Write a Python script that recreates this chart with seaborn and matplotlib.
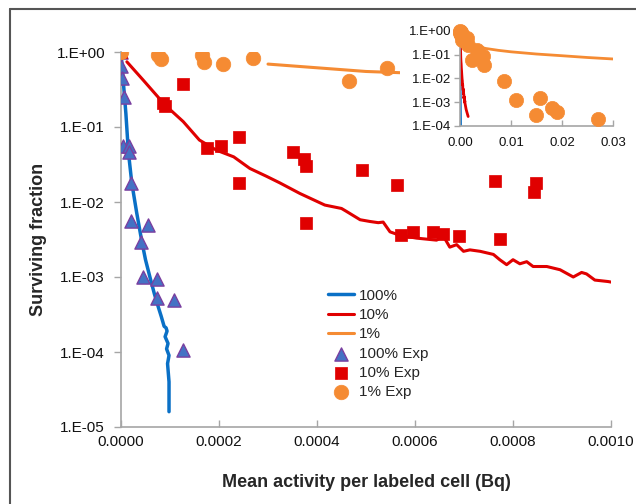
import numpy as np
import matplotlib
matplotlib.use("Agg")
import matplotlib.pyplot as plt
from matplotlib.ticker import FuncFormatter, FixedLocator
from matplotlib.patches import Rectangle
from matplotlib.lines import Line2D
import seaborn as sns

# ---------------- data ----------------
# simulated curves
x_100 = [0, 0.000005, 0.000010, 0.000015, 0.000022, 0.000032, 0.000042, 0.000050, 0.000059,
         0.000068, 0.000076, 0.000082, 0.000088, 0.000092, 0.000094, 0.000090, 0.000096,
         0.000093, 0.000098, 0.000095, 0.000098, 0.000098]
y_100 = [1.0, 0.38, 0.15, 0.047, 0.018, 0.0072, 0.0031, 0.0017, 0.0010, 0.0006, 0.0004,
         0.0003, 0.00022, 0.00021, 0.00019, 0.00016, 0.00013, 0.00011, 0.00009, 0.00007,
         0.00004, 0.000016]

x_10 = [0.000012, 0.0000456, 0.00009, 0.000127, 0.00016, 0.000195, 0.00023, 0.000263, 0.000297,
        0.000324, 0.000365, 0.000416, 0.00045, 0.00046, 0.000488, 0.000508, 0.000525, 0.000535,
        0.000549, 0.000569, 0.000603, 0.000644, 0.000658, 0.000671, 0.000685, 0.000699,
        0.000712, 0.000733, 0.00076, 0.000773, 0.000787, 0.0008, 0.000814, 0.000828, 0.000841,
        0.000869, 0.000896, 0.000923, 0.00094, 0.00095, 0.000967, 0.000994, 0.0012, 0.0014, 0.0016]
y_10 = [0.74, 0.42, 0.196, 0.118, 0.067, 0.049, 0.040, 0.028, 0.022,
        0.018, 0.013, 0.0091, 0.0082, 0.0075, 0.0058, 0.0055, 0.0053, 0.0054,
        0.0040, 0.0036, 0.0033, 0.0031, 0.0035, 0.0025, 0.0027, 0.0022,
        0.0023, 0.0022, 0.0020, 0.0017, 0.00146, 0.0017, 0.0015, 0.0016, 0.00138,
        0.00138, 0.00125, 0.0010, 0.00115, 0.0011, 0.00091, 0.00087, 0.0005, 0.00035, 0.00025]

x_1 = [0.0003, 0.0005, 0.001, 0.002, 0.003, 0.005, 0.0075, 0.01, 0.015, 0.02, 0.025, 0.03]
y_1 = [0.69, 0.55, 0.42, 0.30, 0.24, 0.18, 0.15, 0.13, 0.105, 0.089, 0.075, 0.065]

# experimental points
x_100e = [0, 0.000001, 0.000003, 0.000006, 0.000004, 0.000017, 0.000016, 0.000020, 0.000020,
          0.000055, 0.000040, 0.000044, 0.000073, 0.000073, 0.000108, 0.000127]
y_100e = [1.0, 0.65, 0.45, 0.25, 0.056, 0.056, 0.047, 0.018, 0.0055,
          0.0049, 0.0029, 0.0010, 0.00093, 0.00053, 0.00049, 0.000105]

x_10e = [0, 0.000127, 0.000085, 0.00009, 0.000175, 0.000205, 0.00024, 0.000241, 0.000352,
         0.000373, 0.000378, 0.000378, 0.000491, 0.000564, 0.000571, 0.000595, 0.000637,
         0.000657, 0.00069, 0.000763, 0.000773, 0.000847, 0.000843]
y_10e = [1.0, 0.37, 0.21, 0.19, 0.052, 0.056, 0.074, 0.018, 0.047,
         0.037, 0.030, 0.0052, 0.027, 0.017, 0.0036, 0.0040, 0.0040,
         0.0037, 0.0035, 0.019, 0.0032, 0.018, 0.0137]

x_1e = [0, 0.000076, 0.000082, 0.000165, 0.00017, 0.000209, 0.000269, 0.000465, 0.000543,
        0.0013, 0.0016, 0.0033, 0.0024, 0.0046, 0.0048, 0.0086, 0.0109, 0.0156, 0.0149,
        0.018, 0.019, 0.0271]
y_1e = [1.0, 0.91, 0.80, 0.91, 0.74, 0.69, 0.82, 0.41, 0.62,
        0.48, 0.25, 0.16, 0.058, 0.085, 0.037, 0.008, 0.0012, 0.0015, 0.00029,
        0.00059, 0.0004, 0.0002]

x_ticks_main = [0.0, 0.0002, 0.0004, 0.0006, 0.0008, 0.0010]
y_ticks_main = [1e-5, 1e-4, 1e-3, 1e-2, 1e-1, 1e0]
x_ticks_inset = [0.0, 0.01, 0.02, 0.03]
y_ticks_inset = [1e-4, 1e-3, 1e-2, 1e-1, 1e0]

# ---------------- style ----------------
sns.set_theme(style="white")
plt.rcParams['font.family'] = ['Liberation Sans', 'DejaVu Sans']

C_BLUE = '#0a70c6'
C_RED = '#e00000'
C_ORANGE = '#f58b33'
C_TRI = '#4472c4'
C_TRI_EDGE = '#7a3fa0'
AX_GRAY = '#a6a6a6'

fig = plt.figure(figsize=(6.36, 5.04), dpi=100)
ax = fig.add_axes([121/636, 1-427/504, 490/636, 375/504])

sns.lineplot(x=x_100, y=y_100, ax=ax, color=C_BLUE, lw=2.5, sort=False, estimator=None, label='100%')
sns.lineplot(x=x_10, y=y_10, ax=ax, color=C_RED, lw=2.2, sort=False, estimator=None, label='10%')
sns.lineplot(x=x_1, y=y_1, ax=ax, color=C_ORANGE, lw=2.2, sort=False, estimator=None, label='1%')
sns.scatterplot(x=x_100e, y=y_100e, ax=ax, marker='^', s=90, color=C_TRI, edgecolor=C_TRI_EDGE,
                linewidth=1.0, label='100% Exp', zorder=4)
sns.scatterplot(x=x_10e, y=y_10e, ax=ax, marker='s', s=70, color=C_RED, edgecolor=C_RED,
                linewidth=0.5, label='10% Exp', zorder=4)
sns.scatterplot(x=x_1e, y=y_1e, ax=ax, marker='o', s=110, color=C_ORANGE, edgecolor=C_ORANGE,
                linewidth=0.5, label='1% Exp', zorder=4)

ax.set_yscale('log')
ax.set_xlim(0, 0.0010)
ax.set_ylim(1e-5, 1.0)
ax.xaxis.set_major_locator(FixedLocator(x_ticks_main))
ax.yaxis.set_major_locator(FixedLocator(y_ticks_main))
ax.yaxis.set_minor_locator(FixedLocator([]))
ax.xaxis.set_major_formatter(FuncFormatter(lambda v, p: f"{v:.4f}"))
ax.yaxis.set_major_formatter(FuncFormatter(lambda v, p: f"1.E{int(round(np.log10(v))):+03d}"))
for s in ['top', 'right']:
    ax.spines[s].set_visible(False)
for s in ['left', 'bottom']:
    ax.spines[s].set_color(AX_GRAY)
    ax.spines[s].set_linewidth(1.2)
ax.tick_params(axis='y', which='major', direction='out', length=5, color=AX_GRAY, width=1,
               labelsize=11, labelcolor='#111111', pad=6.5, left=True)
ax.tick_params(axis='x', which='major', direction='in', length=5, color=AX_GRAY, width=1,
               labelsize=11, labelcolor='#111111', pad=6, bottom=True)
ax.set_xlabel('Mean activity per labeled cell (Bq)', fontsize=13, fontweight='bold', labelpad=18)
ax.set_ylabel('Surviving fraction', fontsize=13, fontweight='bold', labelpad=7)

leg = ax.legend(loc='upper left', bbox_to_anchor=(0.41, 0.385), frameon=False, fontsize=11,
                handlelength=1.7, handletextpad=0.3, labelspacing=0.35, borderaxespad=0)

# white box hiding the part of the main plot behind the inset
ax.add_patch(Rectangle((400/636, 1-152/504), 236/636, 140/504, transform=fig.transFigure,
                       facecolor='white', edgecolor='none', zorder=10, clip_on=False))

# ---------------- inset ----------------
ax2 = fig.add_axes([460/636, 1-126/504, 153/636, 95.3/504])
ax2.set_facecolor('white')
sns.lineplot(x=x_100, y=y_100, ax=ax2, color=C_BLUE, lw=2.0, sort=False, estimator=None, legend=False)
sns.lineplot(x=x_10, y=y_10, ax=ax2, color=C_RED, lw=2.0, sort=False, estimator=None, legend=False)
sns.lineplot(x=x_1, y=y_1, ax=ax2, color=C_ORANGE, lw=2.0, sort=False, estimator=None, legend=False)
sns.scatterplot(x=x_1e, y=y_1e, ax=ax2, marker='o', s=105, color=C_ORANGE, edgecolor=C_ORANGE,
                linewidth=0.5, legend=False, zorder=4, clip_on=False)
ax2.set_yscale('log')
ax2.set_xlim(0, 0.03)
ax2.set_ylim(1e-4, 1.0)
ax2.xaxis.set_major_locator(FixedLocator(x_ticks_inset))
ax2.yaxis.set_major_locator(FixedLocator(y_ticks_inset))
ax2.yaxis.set_minor_locator(FixedLocator([]))
ax2.xaxis.set_major_formatter(FuncFormatter(lambda v, p: f"{v:.2f}"))
ax2.yaxis.set_major_formatter(FuncFormatter(lambda v, p: f"1.E{int(round(np.log10(v))):+03d}"))
for s in ['top', 'right']:
    ax2.spines[s].set_visible(False)
for s in ['left', 'bottom']:
    ax2.spines[s].set_color(AX_GRAY)
    ax2.spines[s].set_linewidth(1.2)
ax2.tick_params(axis='y', direction='out', length=4, color=AX_GRAY, width=1,
                labelsize=9.5, labelcolor='#111111', pad=2.5, left=True)
ax2.tick_params(axis='x', direction='in', length=4, color=AX_GRAY, width=1,
                labelsize=9.5, labelcolor='#111111', pad=8, bottom=True)
ax2.set_xlabel('')
ax2.set_ylabel('')

# figure frame (left and top edges)
fig.add_artist(Line2D([10/636, 10/636], [0, 1-9/504], transform=fig.transFigure,
                      color='#555555', lw=1.5))
fig.add_artist(Line2D([10/636, 1], [1-9/504, 1-9/504], transform=fig.transFigure,
                      color='#555555', lw=1.5))

fig.savefig('out.png', dpi=100, facecolor='white')
